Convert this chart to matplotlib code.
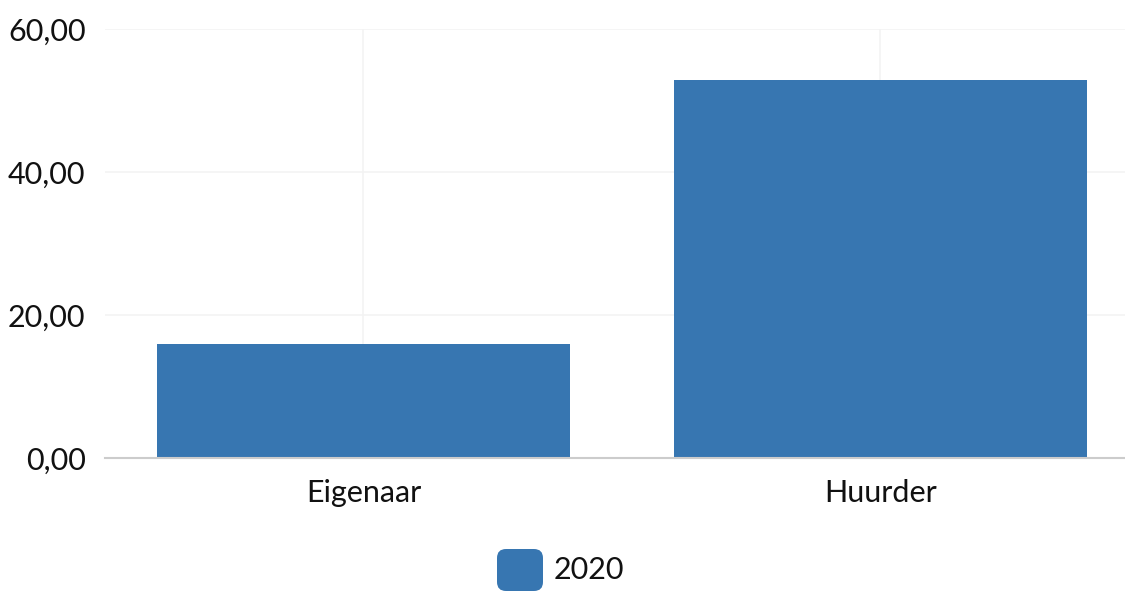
import matplotlib
matplotlib.use("Agg")
import matplotlib.pyplot as plt
from matplotlib.patches import FancyBboxPatch

categories = ["Eigenaar", "Huurder"]
values_2020 = [15.9, 52.9]
series_name = "2020"
yticks = [0, 20, 40, 60]

plt.rcParams['font.family'] = ['Lato', 'DejaVu Sans']

fig = plt.figure(figsize=(11.25, 5.92), dpi=100)
ax = fig.add_axes([105/1125, 1-458/592, 1-105/1125, (458-29)/592])

x = list(range(len(categories)))
ax.bar(x, values_2020, width=0.80, color='#3776b1', zorder=3)

ax.set_xlim(-0.5, 1.473)
ax.set_ylim(0, 60)
ax.set_yticks(yticks)
ax.set_yticklabels([f"{v:.2f}".replace('.', ',') for v in yticks], fontsize=22, color='#111111')
ax.set_xticks(x)
ax.set_xticklabels(categories, fontsize=22, color='#111111')
ax.tick_params(axis='both', length=0)
ax.tick_params(axis='y', pad=14)
ax.tick_params(axis='x', pad=15)

ax.grid(True, color='#f3f3f3', linewidth=1.2, zorder=0)
for s in ['top', 'right', 'left']:
    ax.spines[s].set_visible(False)
ax.spines['bottom'].set_color('#cccccc')
ax.spines['bottom'].set_linewidth(1.5)
ax.spines['bottom'].set_zorder(4)

# legend
patch = FancyBboxPatch((497/1125, 1-591/592), 46/1125, 42/592,
                       boxstyle="round,pad=0,rounding_size=0.008",
                       transform=fig.transFigure, facecolor='#3776b1',
                       edgecolor='none', mutation_aspect=1125/592)
fig.patches.append(patch)
fig.text(554/1125, 1-570/592, series_name, fontsize=22, color='#111111',
         ha='left', va='center')

fig.savefig("out.png", dpi=100)
